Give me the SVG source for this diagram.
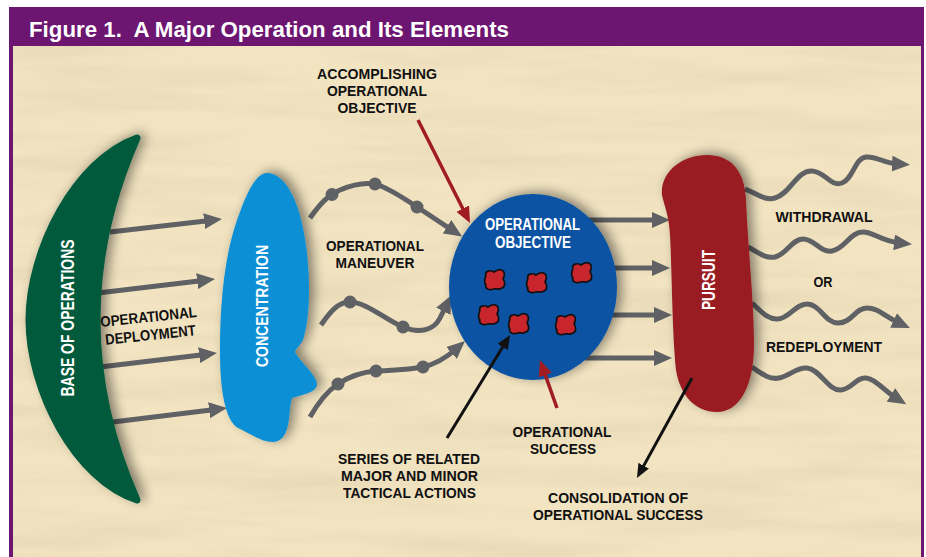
<svg xmlns="http://www.w3.org/2000/svg" width="926" height="557" viewBox="0 0 926 557">
<style>
.lbl{font-family:"Liberation Sans",Arial,sans-serif;font-weight:bold;font-size:15px;fill:#111;text-anchor:middle}
.wl{font-family:"Liberation Sans",Arial,sans-serif;font-weight:bold;fill:#fff;text-anchor:middle}
.ga{fill:none;stroke:#5f6164;stroke-width:5;marker-end:url(#ag)}
.ra{fill:none;stroke:#a11c23;stroke-width:3.5;marker-end:url(#ar)}
.ba{fill:none;stroke:#111;stroke-width:3;marker-end:url(#ab)}
.dot{fill:#5f6164}
.blob{fill:#c8262c;stroke:#111;stroke-width:1.5}
</style>
<defs>
<marker id="ag" viewBox="0 0 18 16" refX="6" refY="8" markerWidth="18" markerHeight="16" markerUnits="userSpaceOnUse" orient="auto"><path d="M0,0 L18,8 L0,16 Z" fill="#5f6164"/></marker>
<marker id="ar" viewBox="0 0 16 14" refX="6" refY="7" markerWidth="16" markerHeight="14" markerUnits="userSpaceOnUse" orient="auto"><path d="M0,0 L16,7 L0,14 Z" fill="#a11c23"/></marker>
<marker id="ab" viewBox="0 0 14 12" refX="5" refY="6" markerWidth="14" markerHeight="12" markerUnits="userSpaceOnUse" orient="auto"><path d="M0,0 L14,6 L0,12 Z" fill="#111"/></marker>
<filter id="sand" x="0" y="0" width="100%" height="100%">
<feTurbulence type="fractalNoise" baseFrequency="0.005 0.045" numOctaves="3" seed="7"/>
<feColorMatrix type="matrix" values="0 0 0 0 0.62  0 0 0 0 0.52  0 0 0 0 0.34  1.1 0 0 0 -0.45"/>
</filter>
<filter id="sh" x="-30%" y="-20%" width="160%" height="140%">
<feGaussianBlur in="SourceAlpha" stdDeviation="6"/>
<feOffset dx="5" dy="-2" result="b"/>
<feComponentTransfer><feFuncA type="linear" slope="0.45"/></feComponentTransfer>
<feMerge><feMergeNode/><feMergeNode in="SourceGraphic"/></feMerge>
</filter>
<path id="bl" d="M-8,-4 C-9,-8 -4,-9 -1,-7 C2,-9 5,-10 7,-8 C9,-6 8,-3 7,-1 C9,2 9,6 6,7 C3,9 0,7 -2,8 C-5,9 -9,8 -8,4 C-10,2 -9,-1 -8,-4 Z"/>
</defs>

<g id="frame">
<rect x="9" y="7" width="915" height="560" fill="#6c1571"/>
<rect x="13" y="46" width="908" height="520" fill="#f2e4c1"/>
<rect x="13" y="46" width="908" height="520" filter="url(#sand)" opacity="0.55"/>
<text x="29" y="37" xml:space="preserve" font-family="Liberation Sans, Arial, sans-serif" font-weight="bold" font-size="22" fill="#fff" textLength="480" lengthAdjust="spacingAndGlyphs">Figure 1.  A Major Operation and Its Elements</text>
</g>

<g id="connectors">
<path class="ga" d="M110,232 L210.1,220.4"/>
<path class="ga" d="M98,293 L203.1,280.4"/>
<path class="ga" d="M100,367 L205.1,354.4"/>
<path class="ga" d="M113,422 L215.1,409.5"/>
<path class="ga" d="M310,218 C320,204 328,195 340,190 C352,185 365,181 378,185 C392,190 405,199 417,207 C428,214 438,221 452,230"/>
<path class="ga" d="M321,325 C330,312 338,302 350,302 C366,302 386,320 403,327 C420,334 434,330 440,318 C442,314 444,310 446,306"/>
<path class="ga" d="M310,417 C318,403 326,392 338,384 C350,376 362,372 376,371 C392,370 408,370 423,367 C436,364 447,357 456,349"/>
<circle class="dot" cx="332" cy="194.5" r="6.5"/>
<circle class="dot" cx="375" cy="184" r="6.5"/>
<circle class="dot" cx="417" cy="207" r="6.5"/>
<circle class="dot" cx="350" cy="302" r="6.5"/>
<circle class="dot" cx="403" cy="327" r="6.5"/>
<circle class="dot" cx="338" cy="384" r="6.5"/>
<circle class="dot" cx="376" cy="371" r="6.5"/>
<circle class="dot" cx="423" cy="367" r="6.5"/>
<path class="ga" d="M585,220 L658,220"/>
<path class="ga" d="M600,268 L658,268"/>
<path class="ga" d="M600,315 L660,315"/>
<path class="ga" d="M585,358 L660,358"/>
<path class="ga" d="M745,189 C758,194 765,201 775,198 C790,194 797,170 812,171 C826,172 830,187 842,183 C853,179 855,158 866,157 C877,156 882,163 898,164"/>
<path class="ga" d="M748,247 C758,252 765,259 775,257 C787,254 792,239 803,239 C815,239 820,253 832,251 C845,249 850,232 863,232 C874,232 880,241 900,243"/>
<path class="ga" d="M752,303 C762,312 768,320 778,319 C790,318 795,304 807,304 C820,304 825,323 838,323 C852,323 855,308 867,308 C878,308 884,316 899,323"/>
<path class="ga" d="M752,367 C762,374 770,380 779,378 C790,376 796,367 807,368 C820,369 828,391 841,390 C852,389 856,377 866,378 C876,379 883,390 896,398"/>
</g>

<g id="base">
<path d="M137,138 C75,160 29,250 29,320 C29,390 75,480 137,500 Q57,320 137,138 Z" fill="#035a3b" stroke="#035a3b" stroke-width="7" stroke-linejoin="round" filter="url(#sh)"/>
<text class="wl" font-size="18" transform="translate(74,318) rotate(-90)" textLength="157" lengthAdjust="spacingAndGlyphs">BASE OF OPERATIONS</text>
</g>

<g id="concentration">
<path d="M267,173 C285,173 300,200 306,245 C310,275 311,315 303,340 C300,346 296,348 295,352 C300,362 316,374 317,384 C317,392 305,394 292,398 C288,410 292,440 274,442 C262,443 248,432 238,428 C225,420 220,390 220,350 C220,300 225,250 240,212 C248,190 257,173 267,173 Z" fill="#0a8fd6" filter="url(#sh)"/>
<text class="wl" font-size="17" transform="translate(268,306) rotate(-90)" textLength="122" lengthAdjust="spacingAndGlyphs">CONCENTRATION</text>
</g>

<g id="objective">
<ellipse cx="533" cy="287" rx="84" ry="93" fill="#0b52a4" filter="url(#sh)"/>
<text class="wl" font-size="16" x="532.5" y="230" textLength="95" lengthAdjust="spacingAndGlyphs">OPERATIONAL</text>
<text class="wl" font-size="16" x="533" y="248" textLength="76" lengthAdjust="spacingAndGlyphs">OBJECTIVE</text>
<use href="#bl" class="blob" transform="translate(495,280) scale(1.15)"/>
<use href="#bl" class="blob" transform="translate(537,283) scale(1.15)"/>
<use href="#bl" class="blob" transform="translate(582,273) scale(1.15)"/>
<use href="#bl" class="blob" transform="translate(489,315) scale(1.15)"/>
<use href="#bl" class="blob" transform="translate(519,324) scale(1.15)"/>
<use href="#bl" class="blob" transform="translate(566,325) scale(1.15)"/>
</g>

<g id="pursuit">
<path d="M662,195 C660,172 682,155 707,155 C730,155 745,170 746,200 C748,250 754,300 754,345 C754,385 740,412 717,412 C695,412 680,395 676,370 C672,330 672,270 670,235 C669,215 664,205 662,195 Z" fill="#991b20" filter="url(#sh)"/>
<text class="wl" font-size="18" transform="translate(715,280) rotate(-90)" textLength="60" lengthAdjust="spacingAndGlyphs">PURSUIT</text>
</g>

<g id="pointers">
<path class="ra" d="M418,120 L465.5,214"/>
<path class="ra" d="M557,408 L543.3,369.4"/>
<path class="ba" d="M447,438 L505.3,342.7"/>
<path class="ba" d="M692,378 L641.3,470.1"/>
</g>

<g id="labels">
<text class="lbl" x="377" y="78.5" textLength="120" lengthAdjust="spacingAndGlyphs">ACCOMPLISHING</text>
<text class="lbl" x="377" y="95.5" textLength="100" lengthAdjust="spacingAndGlyphs">OPERATIONAL</text>
<text class="lbl" x="377" y="112.5" textLength="79" lengthAdjust="spacingAndGlyphs">OBJECTIVE</text>
<text class="lbl" x="375" y="250.5" textLength="98" lengthAdjust="spacingAndGlyphs">OPERATIONAL</text>
<text class="lbl" x="375" y="267.5" textLength="79" lengthAdjust="spacingAndGlyphs">MANEUVER</text>
<text class="lbl" transform="translate(149,322) rotate(-6)" textLength="97" lengthAdjust="spacingAndGlyphs">OPERATIONAL</text>
<text class="lbl" transform="translate(151,340) rotate(-6)" textLength="91" lengthAdjust="spacingAndGlyphs">DEPLOYMENT</text>
<text class="lbl" x="824" y="222" textLength="97" lengthAdjust="spacingAndGlyphs">WITHDRAWAL</text>
<text class="lbl" x="823" y="287" textLength="19" lengthAdjust="spacingAndGlyphs">OR</text>
<text class="lbl" x="824" y="352" textLength="116" lengthAdjust="spacingAndGlyphs">REDEPLOYMENT</text>
<text class="lbl" x="562" y="436.5" textLength="99" lengthAdjust="spacingAndGlyphs">OPERATIONAL</text>
<text class="lbl" x="563" y="453.5" textLength="66" lengthAdjust="spacingAndGlyphs">SUCCESS</text>
<text class="lbl" x="409" y="463.5" textLength="142" lengthAdjust="spacingAndGlyphs">SERIES OF RELATED</text>
<text class="lbl" x="409.5" y="480.5" textLength="137" lengthAdjust="spacingAndGlyphs">MAJOR AND MINOR</text>
<text class="lbl" x="409.5" y="497.5" textLength="133" lengthAdjust="spacingAndGlyphs">TACTICAL ACTIONS</text>
<text class="lbl" x="618" y="503" textLength="140" lengthAdjust="spacingAndGlyphs">CONSOLIDATION OF</text>
<text class="lbl" x="618" y="520" textLength="170" lengthAdjust="spacingAndGlyphs">OPERATIONAL SUCCESS</text>
</g>
</svg>
